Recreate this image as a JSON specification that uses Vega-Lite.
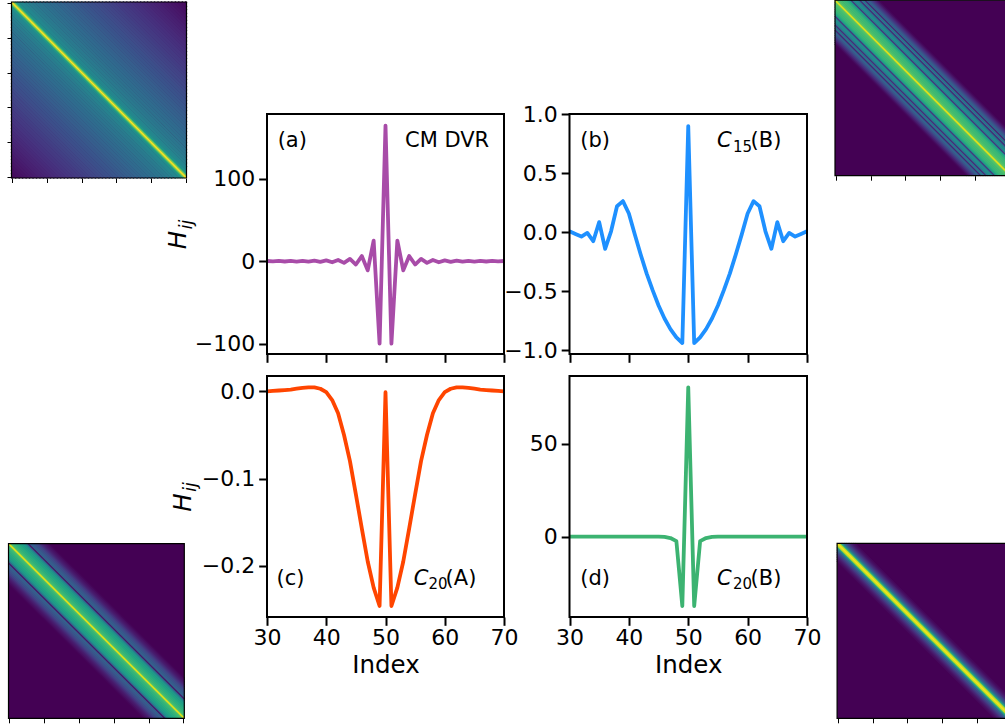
{
  "$schema": "https://vega.github.io/schema/vega-lite/v6.json",
  "width": 1005,
  "height": 724,
  "autosize": "none",
  "padding": 0,
  "background": "white",
  "config": {
    "view": {"stroke": null},
    "font": "DejaVu Sans",
    "axis": {"labelFont": "DejaVu Sans", "titleFont": "DejaVu Sans", "labelColor": "black", "titleColor": "black", "tickColor": "black", "grid": false, "domain": false, "labelFlush": false, "labelOverlap": false}
  },
  "resolve": {"scale": {"x": "independent", "y": "independent"}, "axis": {"x": "independent", "y": "independent"}},
  "datasets": {
    "a": [
      {"i":30,"h":0.25},{"i":31,"h":-0.28},{"i":32,"h":0.31},{"i":33,"h":-0.35},{"i":34,"h":0.39},{"i":35,"h":-0.44},{"i":36,"h":0.51},{"i":37,"h":-0.59},{"i":38,"h":0.69},{"i":39,"h":-0.83},{"i":40,"h":1.0},{"i":41,"h":-1.23},{"i":42,"h":1.56},{"i":43,"h":-2.04},{"i":44,"h":2.78},{"i":45,"h":-4.0},{"i":46,"h":6.25},{"i":47,"h":-11.1},{"i":48,"h":25.0},{"i":49,"h":-100},{"i":50,"h":164.5},{"i":51,"h":-100},{"i":52,"h":25.0},{"i":53,"h":-11.1},{"i":54,"h":6.25},{"i":55,"h":-4.0},{"i":56,"h":2.78},{"i":57,"h":-2.04},{"i":58,"h":1.56},{"i":59,"h":-1.23},{"i":60,"h":1.0},{"i":61,"h":-0.83},{"i":62,"h":0.69},{"i":63,"h":-0.59},{"i":64,"h":0.51},{"i":65,"h":-0.44},{"i":66,"h":0.39},{"i":67,"h":-0.35},{"i":68,"h":0.31},{"i":69,"h":-0.28},{"i":70,"h":0.25}
    ],
    "b": [
      {"i":30,"h":0.008},{"i":31,"h":-0.015},{"i":32,"h":-0.037},{"i":33,"h":-0.006},{"i":34,"h":-0.076},{"i":35,"h":0.085},{"i":36,"h":-0.14},{"i":37,"h":0.008},{"i":38,"h":0.22},{"i":39,"h":0.263},{"i":40,"h":0.158},{"i":41,"h":-0.02},{"i":42,"h":-0.19},{"i":43,"h":-0.35},{"i":44,"h":-0.49},{"i":45,"h":-0.62},{"i":46,"h":-0.73},{"i":47,"h":-0.82},{"i":48,"h":-0.89},{"i":49,"h":-0.937},{"i":50,"h":0.898},{"i":51,"h":-0.937},{"i":52,"h":-0.89},{"i":53,"h":-0.82},{"i":54,"h":-0.73},{"i":55,"h":-0.62},{"i":56,"h":-0.49},{"i":57,"h":-0.35},{"i":58,"h":-0.19},{"i":59,"h":-0.02},{"i":60,"h":0.158},{"i":61,"h":0.263},{"i":62,"h":0.22},{"i":63,"h":0.008},{"i":64,"h":-0.14},{"i":65,"h":0.085},{"i":66,"h":-0.076},{"i":67,"h":-0.006},{"i":68,"h":-0.037},{"i":69,"h":-0.015},{"i":70,"h":0.008}
    ],
    "c": [
      {"i":30,"h":0.0},{"i":31,"h":0.0005},{"i":32,"h":0.001},{"i":33,"h":0.0015},{"i":34,"h":0.002},{"i":35,"h":0.003},{"i":36,"h":0.004},{"i":37,"h":0.0045},{"i":38,"h":0.0045},{"i":39,"h":0.003},{"i":40,"h":-0.001},{"i":41,"h":-0.01},{"i":42,"h":-0.025},{"i":43,"h":-0.05},{"i":44,"h":-0.08},{"i":45,"h":-0.118},{"i":46,"h":-0.157},{"i":47,"h":-0.195},{"i":48,"h":-0.225},{"i":49,"h":-0.246},{"i":50,"h":-0.001},{"i":51,"h":-0.246},{"i":52,"h":-0.225},{"i":53,"h":-0.195},{"i":54,"h":-0.157},{"i":55,"h":-0.118},{"i":56,"h":-0.08},{"i":57,"h":-0.05},{"i":58,"h":-0.025},{"i":59,"h":-0.01},{"i":60,"h":-0.001},{"i":61,"h":0.003},{"i":62,"h":0.0045},{"i":63,"h":0.0045},{"i":64,"h":0.004},{"i":65,"h":0.003},{"i":66,"h":0.002},{"i":67,"h":0.0015},{"i":68,"h":0.001},{"i":69,"h":0.0005},{"i":70,"h":0.0}
    ],
    "d": [
      {"i":30,"h":0},{"i":31,"h":0},{"i":32,"h":0},{"i":33,"h":0},{"i":34,"h":0},{"i":35,"h":0},{"i":36,"h":0},{"i":37,"h":0},{"i":38,"h":0},{"i":39,"h":0},{"i":40,"h":0},{"i":41,"h":0},{"i":42,"h":0},{"i":43,"h":0},{"i":44,"h":0},{"i":45,"h":0},{"i":46,"h":-0.2},{"i":47,"h":-0.8},{"i":48,"h":-2.5},{"i":49,"h":-37.5},{"i":50,"h":80.5},{"i":51,"h":-37.5},{"i":52,"h":-2.5},{"i":53,"h":-0.8},{"i":54,"h":-0.2},{"i":55,"h":0},{"i":56,"h":0},{"i":57,"h":0},{"i":58,"h":0},{"i":59,"h":0},{"i":60,"h":0},{"i":61,"h":0},{"i":62,"h":0},{"i":63,"h":0},{"i":64,"h":0},{"i":65,"h":0},{"i":66,"h":0},{"i":67,"h":0},{"i":68,"h":0},{"i":69,"h":0},{"i":70,"h":0}
    ],
    "tl_far": [
      {"c1":99.5,"r1":-0.5,"c2":100.5,"r2":0.5,"v":0.02},{"c1":-0.5,"r1":99.5,"c2":0.5,"r2":100.5,"v":0.02},
      {"c1":97.5,"r1":-0.5,"c2":100.5,"r2":2.5,"v":0.028},{"c1":-0.5,"r1":97.5,"c2":2.5,"r2":100.5,"v":0.028},
      {"c1":95.5,"r1":-0.5,"c2":100.5,"r2":4.5,"v":0.036},{"c1":-0.5,"r1":95.5,"c2":4.5,"r2":100.5,"v":0.036},
      {"c1":93.5,"r1":-0.5,"c2":100.5,"r2":6.5,"v":0.044},{"c1":-0.5,"r1":93.5,"c2":6.5,"r2":100.5,"v":0.044},
      {"c1":91.5,"r1":-0.5,"c2":100.5,"r2":8.5,"v":0.052},{"c1":-0.5,"r1":91.5,"c2":8.5,"r2":100.5,"v":0.052},
      {"c1":89.5,"r1":-0.5,"c2":100.5,"r2":10.5,"v":0.06},{"c1":-0.5,"r1":89.5,"c2":10.5,"r2":100.5,"v":0.06},
      {"c1":87.5,"r1":-0.5,"c2":100.5,"r2":12.5,"v":0.068},{"c1":-0.5,"r1":87.5,"c2":12.5,"r2":100.5,"v":0.068},
      {"c1":85.5,"r1":-0.5,"c2":100.5,"r2":14.5,"v":0.076},{"c1":-0.5,"r1":85.5,"c2":14.5,"r2":100.5,"v":0.076},
      {"c1":83.5,"r1":-0.5,"c2":100.5,"r2":16.5,"v":0.084},{"c1":-0.5,"r1":83.5,"c2":16.5,"r2":100.5,"v":0.084},
      {"c1":81.5,"r1":-0.5,"c2":100.5,"r2":18.5,"v":0.092},{"c1":-0.5,"r1":81.5,"c2":18.5,"r2":100.5,"v":0.092},
      {"c1":79.5,"r1":-0.5,"c2":100.5,"r2":20.5,"v":0.1},{"c1":-0.5,"r1":79.5,"c2":20.5,"r2":100.5,"v":0.1},
      {"c1":77.5,"r1":-0.5,"c2":100.5,"r2":22.5,"v":0.108},{"c1":-0.5,"r1":77.5,"c2":22.5,"r2":100.5,"v":0.108},
      {"c1":75.5,"r1":-0.5,"c2":100.5,"r2":24.5,"v":0.116},{"c1":-0.5,"r1":75.5,"c2":24.5,"r2":100.5,"v":0.116},
      {"c1":73.5,"r1":-0.5,"c2":100.5,"r2":26.5,"v":0.124},{"c1":-0.5,"r1":73.5,"c2":26.5,"r2":100.5,"v":0.124},
      {"c1":71.5,"r1":-0.5,"c2":100.5,"r2":28.5,"v":0.132},{"c1":-0.5,"r1":71.5,"c2":28.5,"r2":100.5,"v":0.132},
      {"c1":69.5,"r1":-0.5,"c2":100.5,"r2":30.5,"v":0.14},{"c1":-0.5,"r1":69.5,"c2":30.5,"r2":100.5,"v":0.14},
      {"c1":67.5,"r1":-0.5,"c2":100.5,"r2":32.5,"v":0.148},{"c1":-0.5,"r1":67.5,"c2":32.5,"r2":100.5,"v":0.148},
      {"c1":65.5,"r1":-0.5,"c2":100.5,"r2":34.5,"v":0.155},{"c1":-0.5,"r1":65.5,"c2":34.5,"r2":100.5,"v":0.155},
      {"c1":63.5,"r1":-0.5,"c2":100.5,"r2":36.5,"v":0.163},{"c1":-0.5,"r1":63.5,"c2":36.5,"r2":100.5,"v":0.163},
      {"c1":61.5,"r1":-0.5,"c2":100.5,"r2":38.5,"v":0.17},{"c1":-0.5,"r1":61.5,"c2":38.5,"r2":100.5,"v":0.17},
      {"c1":59.5,"r1":-0.5,"c2":100.5,"r2":40.5,"v":0.178},{"c1":-0.5,"r1":59.5,"c2":40.5,"r2":100.5,"v":0.178},
      {"c1":57.5,"r1":-0.5,"c2":100.5,"r2":42.5,"v":0.186},{"c1":-0.5,"r1":57.5,"c2":42.5,"r2":100.5,"v":0.186},
      {"c1":55.5,"r1":-0.5,"c2":100.5,"r2":44.5,"v":0.195},{"c1":-0.5,"r1":55.5,"c2":44.5,"r2":100.5,"v":0.195},
      {"c1":53.5,"r1":-0.5,"c2":100.5,"r2":46.5,"v":0.203},{"c1":-0.5,"r1":53.5,"c2":46.5,"r2":100.5,"v":0.203},
      {"c1":51.5,"r1":-0.5,"c2":100.5,"r2":48.5,"v":0.212},{"c1":-0.5,"r1":51.5,"c2":48.5,"r2":100.5,"v":0.212},
      {"c1":49.5,"r1":-0.5,"c2":100.5,"r2":50.5,"v":0.22},{"c1":-0.5,"r1":49.5,"c2":50.5,"r2":100.5,"v":0.22},
      {"c1":47.5,"r1":-0.5,"c2":100.5,"r2":52.5,"v":0.229},{"c1":-0.5,"r1":47.5,"c2":52.5,"r2":100.5,"v":0.229},
      {"c1":45.5,"r1":-0.5,"c2":100.5,"r2":54.5,"v":0.238},{"c1":-0.5,"r1":45.5,"c2":54.5,"r2":100.5,"v":0.238},
      {"c1":43.5,"r1":-0.5,"c2":100.5,"r2":56.5,"v":0.247},{"c1":-0.5,"r1":43.5,"c2":56.5,"r2":100.5,"v":0.247},
      {"c1":41.5,"r1":-0.5,"c2":100.5,"r2":58.5,"v":0.256},{"c1":-0.5,"r1":41.5,"c2":58.5,"r2":100.5,"v":0.256},
      {"c1":39.5,"r1":-0.5,"c2":100.5,"r2":60.5,"v":0.265},{"c1":-0.5,"r1":39.5,"c2":60.5,"r2":100.5,"v":0.265},
      {"c1":37.5,"r1":-0.5,"c2":100.5,"r2":62.5,"v":0.274},{"c1":-0.5,"r1":37.5,"c2":62.5,"r2":100.5,"v":0.274},
      {"c1":35.5,"r1":-0.5,"c2":100.5,"r2":64.5,"v":0.283},{"c1":-0.5,"r1":35.5,"c2":64.5,"r2":100.5,"v":0.283},
      {"c1":33.5,"r1":-0.5,"c2":100.5,"r2":66.5,"v":0.292},{"c1":-0.5,"r1":33.5,"c2":66.5,"r2":100.5,"v":0.292},
      {"c1":31.5,"r1":-0.5,"c2":100.5,"r2":68.5,"v":0.301},{"c1":-0.5,"r1":31.5,"c2":68.5,"r2":100.5,"v":0.301},
      {"c1":29.5,"r1":-0.5,"c2":100.5,"r2":70.5,"v":0.31},{"c1":-0.5,"r1":29.5,"c2":70.5,"r2":100.5,"v":0.31},
      {"c1":27.5,"r1":-0.5,"c2":100.5,"r2":72.5,"v":0.32},{"c1":-0.5,"r1":27.5,"c2":72.5,"r2":100.5,"v":0.32},
      {"c1":25.5,"r1":-0.5,"c2":100.5,"r2":74.5,"v":0.33},{"c1":-0.5,"r1":25.5,"c2":74.5,"r2":100.5,"v":0.33},
      {"c1":23.5,"r1":-0.5,"c2":100.5,"r2":76.5,"v":0.34},{"c1":-0.5,"r1":23.5,"c2":76.5,"r2":100.5,"v":0.34},
      {"c1":21.5,"r1":-0.5,"c2":100.5,"r2":78.5,"v":0.35},{"c1":-0.5,"r1":21.5,"c2":78.5,"r2":100.5,"v":0.35},
      {"c1":19.5,"r1":-0.5,"c2":100.5,"r2":80.5,"v":0.36},{"c1":-0.5,"r1":19.5,"c2":80.5,"r2":100.5,"v":0.36},
      {"c1":17.5,"r1":-0.5,"c2":100.5,"r2":82.5,"v":0.371},{"c1":-0.5,"r1":17.5,"c2":82.5,"r2":100.5,"v":0.371},
      {"c1":15.5,"r1":-0.5,"c2":100.5,"r2":84.5,"v":0.382},{"c1":-0.5,"r1":15.5,"c2":84.5,"r2":100.5,"v":0.382},
      {"c1":13.5,"r1":-0.5,"c2":100.5,"r2":86.5,"v":0.393},{"c1":-0.5,"r1":13.5,"c2":86.5,"r2":100.5,"v":0.393},
      {"c1":11.5,"r1":-0.5,"c2":100.5,"r2":88.5,"v":0.404},{"c1":-0.5,"r1":11.5,"c2":88.5,"r2":100.5,"v":0.404},
      {"c1":9.5,"r1":-0.5,"c2":100.5,"r2":90.5,"v":0.415},{"c1":-0.5,"r1":9.5,"c2":90.5,"r2":100.5,"v":0.415},
      {"c1":7.5,"r1":-0.5,"c2":100.5,"r2":92.5,"v":0.432},{"c1":-0.5,"r1":7.5,"c2":92.5,"r2":100.5,"v":0.432},
      {"c1":5.5,"r1":-0.5,"c2":100.5,"r2":94.5,"v":0.45},{"c1":-0.5,"r1":5.5,"c2":94.5,"r2":100.5,"v":0.45}
    ],
    "tl_near": [
      {"c1":4.5,"r1":-0.5,"c2":100.5,"r2":95.5,"v":0.46},{"c1":-0.5,"r1":4.5,"c2":95.5,"r2":100.5,"v":0.46},
      {"c1":3.5,"r1":-0.5,"c2":100.5,"r2":96.5,"v":0.48},{"c1":-0.5,"r1":3.5,"c2":96.5,"r2":100.5,"v":0.48},
      {"c1":2.5,"r1":-0.5,"c2":100.5,"r2":97.5,"v":0.52},{"c1":-0.5,"r1":2.5,"c2":97.5,"r2":100.5,"v":0.52},
      {"c1":1.5,"r1":-0.5,"c2":100.5,"r2":98.5,"v":0.6},{"c1":-0.5,"r1":1.5,"c2":98.5,"r2":100.5,"v":0.6},
      {"c1":0.5,"r1":-0.5,"c2":100.5,"r2":99.5,"v":0.8},{"c1":-0.5,"r1":0.5,"c2":99.5,"r2":100.5,"v":0.8},
      {"c1":-0.5,"r1":-0.5,"c2":100.5,"r2":100.5,"v":1.0}
    ],
    "tr": [
      {"c1":24.5,"r1":-0.5,"c2":100.5,"r2":75.5,"v":0.01},{"c1":-0.5,"r1":24.5,"c2":75.5,"r2":100.5,"v":0.01},
      {"c1":23.5,"r1":-0.5,"c2":100.5,"r2":76.5,"v":0.04},{"c1":-0.5,"r1":23.5,"c2":76.5,"r2":100.5,"v":0.04},
      {"c1":22.5,"r1":-0.5,"c2":100.5,"r2":77.5,"v":0.08},{"c1":-0.5,"r1":22.5,"c2":77.5,"r2":100.5,"v":0.08},
      {"c1":21.5,"r1":-0.5,"c2":100.5,"r2":78.5,"v":0.13},{"c1":-0.5,"r1":21.5,"c2":78.5,"r2":100.5,"v":0.13},
      {"c1":20.5,"r1":-0.5,"c2":100.5,"r2":79.5,"v":0.18},{"c1":-0.5,"r1":20.5,"c2":79.5,"r2":100.5,"v":0.18},
      {"c1":19.5,"r1":-0.5,"c2":100.5,"r2":80.5,"v":0.24},{"c1":-0.5,"r1":19.5,"c2":80.5,"r2":100.5,"v":0.24},
      {"c1":18.5,"r1":-0.5,"c2":100.5,"r2":81.5,"v":0.3},{"c1":-0.5,"r1":18.5,"c2":81.5,"r2":100.5,"v":0.3},
      {"c1":17.5,"r1":-0.5,"c2":100.5,"r2":82.5,"v":0.33},{"c1":-0.5,"r1":17.5,"c2":82.5,"r2":100.5,"v":0.33},
      {"c1":16.5,"r1":-0.5,"c2":100.5,"r2":83.5,"v":0.1},{"c1":-0.5,"r1":16.5,"c2":83.5,"r2":100.5,"v":0.1},
      {"c1":15.5,"r1":-0.5,"c2":100.5,"r2":84.5,"v":0.38},{"c1":-0.5,"r1":15.5,"c2":84.5,"r2":100.5,"v":0.38},
      {"c1":14.5,"r1":-0.5,"c2":100.5,"r2":85.5,"v":0.4},{"c1":-0.5,"r1":14.5,"c2":85.5,"r2":100.5,"v":0.4},
      {"c1":13.5,"r1":-0.5,"c2":100.5,"r2":86.5,"v":0.12},{"c1":-0.5,"r1":13.5,"c2":86.5,"r2":100.5,"v":0.12},
      {"c1":12.5,"r1":-0.5,"c2":100.5,"r2":87.5,"v":0.4},{"c1":-0.5,"r1":12.5,"c2":87.5,"r2":100.5,"v":0.4},
      {"c1":11.5,"r1":-0.5,"c2":100.5,"r2":88.5,"v":0.48},{"c1":-0.5,"r1":11.5,"c2":88.5,"r2":100.5,"v":0.48},
      {"c1":10.5,"r1":-0.5,"c2":100.5,"r2":89.5,"v":0.5},{"c1":-0.5,"r1":10.5,"c2":89.5,"r2":100.5,"v":0.5},
      {"c1":9.5,"r1":-0.5,"c2":100.5,"r2":90.5,"v":0.45},{"c1":-0.5,"r1":9.5,"c2":90.5,"r2":100.5,"v":0.45},
      {"c1":8.5,"r1":-0.5,"c2":100.5,"r2":91.5,"v":0.15},{"c1":-0.5,"r1":8.5,"c2":91.5,"r2":100.5,"v":0.15},
      {"c1":7.5,"r1":-0.5,"c2":100.5,"r2":92.5,"v":0.55},{"c1":-0.5,"r1":7.5,"c2":92.5,"r2":100.5,"v":0.55},
      {"c1":6.5,"r1":-0.5,"c2":100.5,"r2":93.5,"v":0.62},{"c1":-0.5,"r1":6.5,"c2":93.5,"r2":100.5,"v":0.62},
      {"c1":5.5,"r1":-0.5,"c2":100.5,"r2":94.5,"v":0.66},{"c1":-0.5,"r1":5.5,"c2":94.5,"r2":100.5,"v":0.66},
      {"c1":4.5,"r1":-0.5,"c2":100.5,"r2":95.5,"v":0.68},{"c1":-0.5,"r1":4.5,"c2":95.5,"r2":100.5,"v":0.68},
      {"c1":3.5,"r1":-0.5,"c2":100.5,"r2":96.5,"v":0.69},{"c1":-0.5,"r1":3.5,"c2":96.5,"r2":100.5,"v":0.69},
      {"c1":2.5,"r1":-0.5,"c2":100.5,"r2":97.5,"v":0.7},{"c1":-0.5,"r1":2.5,"c2":97.5,"r2":100.5,"v":0.7},
      {"c1":1.5,"r1":-0.5,"c2":100.5,"r2":98.5,"v":0.72},{"c1":-0.5,"r1":1.5,"c2":98.5,"r2":100.5,"v":0.72},
      {"c1":0.5,"r1":-0.5,"c2":100.5,"r2":99.5,"v":0.75},{"c1":-0.5,"r1":0.5,"c2":99.5,"r2":100.5,"v":0.75},
      {"c1":-0.5,"r1":-0.5,"c2":100.5,"r2":100.5,"v":0.95}
    ],
    "bl": [
      {"c1":22.5,"r1":-0.5,"c2":100.5,"r2":77.5,"v":0.01},{"c1":-0.5,"r1":22.5,"c2":77.5,"r2":100.5,"v":0.01},
      {"c1":21.5,"r1":-0.5,"c2":100.5,"r2":78.5,"v":0.03},{"c1":-0.5,"r1":21.5,"c2":78.5,"r2":100.5,"v":0.03},
      {"c1":20.5,"r1":-0.5,"c2":100.5,"r2":79.5,"v":0.05},{"c1":-0.5,"r1":20.5,"c2":79.5,"r2":100.5,"v":0.05},
      {"c1":19.5,"r1":-0.5,"c2":100.5,"r2":80.5,"v":0.07},{"c1":-0.5,"r1":19.5,"c2":80.5,"r2":100.5,"v":0.07},
      {"c1":18.5,"r1":-0.5,"c2":100.5,"r2":81.5,"v":0.1},{"c1":-0.5,"r1":18.5,"c2":81.5,"r2":100.5,"v":0.1},
      {"c1":17.5,"r1":-0.5,"c2":100.5,"r2":82.5,"v":0.14},{"c1":-0.5,"r1":17.5,"c2":82.5,"r2":100.5,"v":0.14},
      {"c1":16.5,"r1":-0.5,"c2":100.5,"r2":83.5,"v":0.18},{"c1":-0.5,"r1":16.5,"c2":83.5,"r2":100.5,"v":0.18},
      {"c1":15.5,"r1":-0.5,"c2":100.5,"r2":84.5,"v":0.22},{"c1":-0.5,"r1":15.5,"c2":84.5,"r2":100.5,"v":0.22},
      {"c1":14.5,"r1":-0.5,"c2":100.5,"r2":85.5,"v":0.25},{"c1":-0.5,"r1":14.5,"c2":85.5,"r2":100.5,"v":0.25},
      {"c1":13.5,"r1":-0.5,"c2":100.5,"r2":86.5,"v":0.28},{"c1":-0.5,"r1":13.5,"c2":86.5,"r2":100.5,"v":0.28},
      {"c1":12.5,"r1":-0.5,"c2":100.5,"r2":87.5,"v":0.3},{"c1":-0.5,"r1":12.5,"c2":87.5,"r2":100.5,"v":0.3},
      {"c1":11.5,"r1":-0.5,"c2":100.5,"r2":88.5,"v":0.3},{"c1":-0.5,"r1":11.5,"c2":88.5,"r2":100.5,"v":0.3},
      {"c1":10.5,"r1":-0.5,"c2":100.5,"r2":89.5,"v":0.05},{"c1":-0.5,"r1":10.5,"c2":89.5,"r2":100.5,"v":0.05},
      {"c1":9.5,"r1":-0.5,"c2":100.5,"r2":90.5,"v":0.35},{"c1":-0.5,"r1":9.5,"c2":90.5,"r2":100.5,"v":0.35},
      {"c1":8.5,"r1":-0.5,"c2":100.5,"r2":91.5,"v":0.5},{"c1":-0.5,"r1":8.5,"c2":91.5,"r2":100.5,"v":0.5},
      {"c1":7.5,"r1":-0.5,"c2":100.5,"r2":92.5,"v":0.55},{"c1":-0.5,"r1":7.5,"c2":92.5,"r2":100.5,"v":0.55},
      {"c1":6.5,"r1":-0.5,"c2":100.5,"r2":93.5,"v":0.58},{"c1":-0.5,"r1":6.5,"c2":93.5,"r2":100.5,"v":0.58},
      {"c1":5.5,"r1":-0.5,"c2":100.5,"r2":94.5,"v":0.6},{"c1":-0.5,"r1":5.5,"c2":94.5,"r2":100.5,"v":0.6},
      {"c1":4.5,"r1":-0.5,"c2":100.5,"r2":95.5,"v":0.62},{"c1":-0.5,"r1":4.5,"c2":95.5,"r2":100.5,"v":0.62},
      {"c1":3.5,"r1":-0.5,"c2":100.5,"r2":96.5,"v":0.64},{"c1":-0.5,"r1":3.5,"c2":96.5,"r2":100.5,"v":0.64},
      {"c1":2.5,"r1":-0.5,"c2":100.5,"r2":97.5,"v":0.66},{"c1":-0.5,"r1":2.5,"c2":97.5,"r2":100.5,"v":0.66},
      {"c1":1.5,"r1":-0.5,"c2":100.5,"r2":98.5,"v":0.68},{"c1":-0.5,"r1":1.5,"c2":98.5,"r2":100.5,"v":0.68},
      {"c1":0.5,"r1":-0.5,"c2":100.5,"r2":99.5,"v":0.72},{"c1":-0.5,"r1":0.5,"c2":99.5,"r2":100.5,"v":0.72},
      {"c1":-0.5,"r1":-0.5,"c2":100.5,"r2":100.5,"v":0.95}
    ],
    "br": [
      {"c1":9.5,"r1":-0.5,"c2":100.5,"r2":90.5,"v":0.02},{"c1":-0.5,"r1":9.5,"c2":90.5,"r2":100.5,"v":0.02},
      {"c1":8.5,"r1":-0.5,"c2":100.5,"r2":91.5,"v":0.04},{"c1":-0.5,"r1":8.5,"c2":91.5,"r2":100.5,"v":0.04},
      {"c1":7.5,"r1":-0.5,"c2":100.5,"r2":92.5,"v":0.07},{"c1":-0.5,"r1":7.5,"c2":92.5,"r2":100.5,"v":0.07},
      {"c1":6.5,"r1":-0.5,"c2":100.5,"r2":93.5,"v":0.11},{"c1":-0.5,"r1":6.5,"c2":93.5,"r2":100.5,"v":0.11},
      {"c1":5.5,"r1":-0.5,"c2":100.5,"r2":94.5,"v":0.16},{"c1":-0.5,"r1":5.5,"c2":94.5,"r2":100.5,"v":0.16},
      {"c1":4.5,"r1":-0.5,"c2":100.5,"r2":95.5,"v":0.22},{"c1":-0.5,"r1":4.5,"c2":95.5,"r2":100.5,"v":0.22},
      {"c1":3.5,"r1":-0.5,"c2":100.5,"r2":96.5,"v":0.3},{"c1":-0.5,"r1":3.5,"c2":96.5,"r2":100.5,"v":0.3},
      {"c1":2.5,"r1":-0.5,"c2":100.5,"r2":97.5,"v":0.42},{"c1":-0.5,"r1":2.5,"c2":97.5,"r2":100.5,"v":0.42},
      {"c1":1.5,"r1":-0.5,"c2":100.5,"r2":98.5,"v":0.62},{"c1":-0.5,"r1":1.5,"c2":98.5,"r2":100.5,"v":0.62},
      {"c1":0.5,"r1":-0.5,"c2":100.5,"r2":99.5,"v":0.9},{"c1":-0.5,"r1":0.5,"c2":99.5,"r2":100.5,"v":0.9},
      {"c1":-0.5,"r1":-0.5,"c2":100.5,"r2":100.5,"v":0.98}
    ]
  },
  "layer": [
    {"data": {"name": "a"}, "mark": {"type": "line", "color": "#a84ca8", "strokeWidth": 3.8, "strokeJoin": "round", "strokeCap": "butt"},
     "encoding": {
       "x": {"field": "i", "type": "quantitative", "scale": {"domain": [30, 70], "range": [267, 504], "nice": false, "zero": false},
             "axis": {"orient": "bottom", "offset": -370, "values": [30, 40, 50, 60, 70], "labels": false, "title": null, "tickSize": 8.3, "tickWidth": 2}},
       "y": {"field": "h", "type": "quantitative", "scale": {"domain": [-112.5, 178.5], "range": [354, 114], "nice": false, "zero": false},
             "axis": {"orient": "left", "offset": -267, "values": [-100, 0, 100], "title": null, "tickSize": 8.3, "tickWidth": 2, "labelFontSize": 22, "labelPadding": 4}}
     }},
    {"data": {"values": [{}]}, "mark": {"type": "rect", "filled": false, "stroke": "black", "strokeWidth": 2},
     "encoding": {"x": {"datum": 30, "type": "quantitative", "scale": {"domain": [30, 70], "range": [267, 504], "nice": false, "zero": false}, "axis": null}, "x2": {"datum": 70},
                  "y": {"datum": -112.5, "type": "quantitative", "scale": {"domain": [-112.5, 178.5], "range": [354, 114], "nice": false, "zero": false}, "axis": null}, "y2": {"datum": 178.5}}},
    {"data": {"values": [{"label": "(a)"}]}, "mark": {"type": "text", "align": "left", "baseline": "alphabetic", "fontSize": 21, "color": "black"},
     "encoding": {"x": {"datum": 31.8, "type": "quantitative", "scale": {"domain": [30, 70], "range": [267, 504], "nice": false, "zero": false}, "axis": null},
                  "y": {"datum": 137.9, "type": "quantitative", "scale": {"domain": [-112.5, 178.5], "range": [354, 114], "nice": false, "zero": false}, "axis": null}, "text": {"field": "label"}}},
    {"data": {"values": [{"label": "CM DVR"}]}, "mark": {"type": "text", "align": "right", "baseline": "alphabetic", "fontSize": 21, "color": "black"},
     "encoding": {"x": {"datum": 67.5, "type": "quantitative", "scale": {"domain": [30, 70], "range": [267, 504], "nice": false, "zero": false}, "axis": null},
                  "y": {"datum": 137.9, "type": "quantitative", "scale": {"domain": [-112.5, 178.5], "range": [354, 114], "nice": false, "zero": false}, "axis": null}, "text": {"field": "label"}}},
    {"data": {"values": [{"label": "H"}]}, "mark": {"type": "text", "align": "left", "baseline": "alphabetic", "fontSize": 24.5, "fontStyle": "italic", "angle": 270, "color": "black"},
     "encoding": {"x": {"datum": 16.33, "type": "quantitative", "scale": {"domain": [30, 70], "range": [267, 504], "nice": false, "zero": false}, "axis": null},
                  "y": {"datum": 14.45, "type": "quantitative", "scale": {"domain": [-112.5, 178.5], "range": [354, 114], "nice": false, "zero": false}, "axis": null}, "text": {"field": "label"}}},
    {"data": {"values": [{"label": "ij"}]}, "mark": {"type": "text", "align": "left", "baseline": "alphabetic", "fontSize": 17, "fontStyle": "italic", "angle": 270, "dx": 20, "dy": 5.5, "color": "black"},
     "encoding": {"x": {"datum": 16.33, "type": "quantitative", "scale": {"domain": [30, 70], "range": [267, 504], "nice": false, "zero": false}, "axis": null},
                  "y": {"datum": 14.45, "type": "quantitative", "scale": {"domain": [-112.5, 178.5], "range": [354, 114], "nice": false, "zero": false}, "axis": null}, "text": {"field": "label"}}},

    {"data": {"name": "b"}, "mark": {"type": "line", "color": "#1e90ff", "strokeWidth": 3.8, "strokeJoin": "round", "strokeCap": "butt"},
     "encoding": {
       "x": {"field": "i", "type": "quantitative", "scale": {"domain": [30, 70], "range": [569.5, 807], "nice": false, "zero": false},
             "axis": {"orient": "bottom", "offset": -370, "values": [30, 40, 50, 60, 70], "labels": false, "title": null, "tickSize": 8.3, "tickWidth": 2}},
       "y": {"field": "h", "type": "quantitative", "scale": {"domain": [-1.03, 1.0], "range": [354, 114], "nice": false, "zero": false},
             "axis": {"orient": "left", "offset": -569.5, "values": [-1, -0.5, 0, 0.5, 1], "format": ".1f", "title": null, "tickSize": 8.3, "tickWidth": 2, "labelFontSize": 22, "labelPadding": 4}}
     }},
    {"data": {"values": [{}]}, "mark": {"type": "rect", "filled": false, "stroke": "black", "strokeWidth": 2},
     "encoding": {"x": {"datum": 30, "type": "quantitative", "scale": {"domain": [30, 70], "range": [569.5, 807], "nice": false, "zero": false}, "axis": null}, "x2": {"datum": 70},
                  "y": {"datum": -1.03, "type": "quantitative", "scale": {"domain": [-1.03, 1.0], "range": [354, 114], "nice": false, "zero": false}, "axis": null}, "y2": {"datum": 1.0}}},
    {"data": {"values": [{"label": "(b)"}]}, "mark": {"type": "text", "align": "left", "baseline": "alphabetic", "fontSize": 21, "color": "black"},
     "encoding": {"x": {"datum": 31.82, "type": "quantitative", "scale": {"domain": [30, 70], "range": [569.5, 807], "nice": false, "zero": false}, "axis": null},
                  "y": {"datum": 0.717, "type": "quantitative", "scale": {"domain": [-1.03, 1.0], "range": [354, 114], "nice": false, "zero": false}, "axis": null}, "text": {"field": "label"}}},
    {"data": {"values": [{"label": "C"}]}, "mark": {"type": "text", "align": "left", "baseline": "alphabetic", "fontSize": 21, "fontStyle": "italic", "color": "black"},
     "encoding": {"x": {"datum": 54.84, "type": "quantitative", "scale": {"domain": [30, 70], "range": [569.5, 807], "nice": false, "zero": false}, "axis": null},
                  "y": {"datum": 0.717, "type": "quantitative", "scale": {"domain": [-1.03, 1.0], "range": [354, 114], "nice": false, "zero": false}, "axis": null}, "text": {"field": "label"}}},
    {"data": {"values": [{"label": "15"}]}, "mark": {"type": "text", "align": "left", "baseline": "alphabetic", "fontSize": 15, "dy": 4.5, "color": "black"},
     "encoding": {"x": {"datum": 57.54, "type": "quantitative", "scale": {"domain": [30, 70], "range": [569.5, 807], "nice": false, "zero": false}, "axis": null},
                  "y": {"datum": 0.717, "type": "quantitative", "scale": {"domain": [-1.03, 1.0], "range": [354, 114], "nice": false, "zero": false}, "axis": null}, "text": {"field": "label"}}},
    {"data": {"values": [{"label": "(B)"}]}, "mark": {"type": "text", "align": "left", "baseline": "alphabetic", "fontSize": 21, "color": "black"},
     "encoding": {"x": {"datum": 60.5, "type": "quantitative", "scale": {"domain": [30, 70], "range": [569.5, 807], "nice": false, "zero": false}, "axis": null},
                  "y": {"datum": 0.717, "type": "quantitative", "scale": {"domain": [-1.03, 1.0], "range": [354, 114], "nice": false, "zero": false}, "axis": null}, "text": {"field": "label"}}},

    {"data": {"name": "c"}, "mark": {"type": "line", "color": "#ff4500", "strokeWidth": 3.8, "strokeJoin": "round", "strokeCap": "butt"},
     "encoding": {
       "x": {"field": "i", "type": "quantitative", "scale": {"domain": [30, 70], "range": [267, 504], "nice": false, "zero": false},
             "axis": {"orient": "bottom", "offset": -107, "values": [30, 40, 50, 60, 70], "title": "Index", "titleFontSize": 24.5, "titleFontWeight": "normal", "titleBaseline": "alphabetic", "titleY": 55, "tickSize": 8.3, "tickWidth": 2, "labelFontSize": 22, "labelPadding": 2}},
       "y": {"field": "h", "type": "quantitative", "scale": {"domain": [-0.2586, 0.0176], "range": [617, 376], "nice": false, "zero": false},
             "axis": {"orient": "left", "offset": -267, "values": [-0.2, -0.1, 0], "format": ".1f", "title": null, "tickSize": 8.3, "tickWidth": 2, "labelFontSize": 22, "labelPadding": 4}}
     }},
    {"data": {"values": [{}]}, "mark": {"type": "rect", "filled": false, "stroke": "black", "strokeWidth": 2},
     "encoding": {"x": {"datum": 30, "type": "quantitative", "scale": {"domain": [30, 70], "range": [267, 504], "nice": false, "zero": false}, "axis": null}, "x2": {"datum": 70},
                  "y": {"datum": -0.2586, "type": "quantitative", "scale": {"domain": [-0.2586, 0.0176], "range": [617, 376], "nice": false, "zero": false}, "axis": null}, "y2": {"datum": 0.0176}}},
    {"data": {"values": [{"label": "(c)"}]}, "mark": {"type": "text", "align": "left", "baseline": "alphabetic", "fontSize": 21, "color": "black"},
     "encoding": {"x": {"datum": 31.62, "type": "quantitative", "scale": {"domain": [30, 70], "range": [267, 504], "nice": false, "zero": false}, "axis": null},
                  "y": {"datum": -0.2214, "type": "quantitative", "scale": {"domain": [-0.2586, 0.0176], "range": [617, 376], "nice": false, "zero": false}, "axis": null}, "text": {"field": "label"}}},
    {"data": {"values": [{"label": "C"}]}, "mark": {"type": "text", "align": "left", "baseline": "alphabetic", "fontSize": 21, "fontStyle": "italic", "color": "black"},
     "encoding": {"x": {"datum": 54.76, "type": "quantitative", "scale": {"domain": [30, 70], "range": [267, 504], "nice": false, "zero": false}, "axis": null},
                  "y": {"datum": -0.2214, "type": "quantitative", "scale": {"domain": [-0.2586, 0.0176], "range": [617, 376], "nice": false, "zero": false}, "axis": null}, "text": {"field": "label"}}},
    {"data": {"values": [{"label": "20"}]}, "mark": {"type": "text", "align": "left", "baseline": "alphabetic", "fontSize": 15, "dy": 4.5, "color": "black"},
     "encoding": {"x": {"datum": 57.26, "type": "quantitative", "scale": {"domain": [30, 70], "range": [267, 504], "nice": false, "zero": false}, "axis": null},
                  "y": {"datum": -0.2214, "type": "quantitative", "scale": {"domain": [-0.2586, 0.0176], "range": [617, 376], "nice": false, "zero": false}, "axis": null}, "text": {"field": "label"}}},
    {"data": {"values": [{"label": "(A)"}]}, "mark": {"type": "text", "align": "left", "baseline": "alphabetic", "fontSize": 21, "color": "black"},
     "encoding": {"x": {"datum": 60.14, "type": "quantitative", "scale": {"domain": [30, 70], "range": [267, 504], "nice": false, "zero": false}, "axis": null},
                  "y": {"datum": -0.2214, "type": "quantitative", "scale": {"domain": [-0.2586, 0.0176], "range": [617, 376], "nice": false, "zero": false}, "axis": null}, "text": {"field": "label"}}},
    {"data": {"values": [{"label": "H"}]}, "mark": {"type": "text", "align": "left", "baseline": "alphabetic", "fontSize": 24.5, "fontStyle": "italic", "angle": 270, "color": "black"},
     "encoding": {"x": {"datum": 17.17, "type": "quantitative", "scale": {"domain": [30, 70], "range": [267, 504], "nice": false, "zero": false}, "axis": null},
                  "y": {"datum": -0.1379, "type": "quantitative", "scale": {"domain": [-0.2586, 0.0176], "range": [617, 376], "nice": false, "zero": false}, "axis": null}, "text": {"field": "label"}}},
    {"data": {"values": [{"label": "ij"}]}, "mark": {"type": "text", "align": "left", "baseline": "alphabetic", "fontSize": 17, "fontStyle": "italic", "angle": 270, "dx": 20, "dy": 5.5, "color": "black"},
     "encoding": {"x": {"datum": 17.17, "type": "quantitative", "scale": {"domain": [30, 70], "range": [267, 504], "nice": false, "zero": false}, "axis": null},
                  "y": {"datum": -0.1379, "type": "quantitative", "scale": {"domain": [-0.2586, 0.0176], "range": [617, 376], "nice": false, "zero": false}, "axis": null}, "text": {"field": "label"}}},

    {"data": {"name": "d"}, "mark": {"type": "line", "color": "#3cb371", "strokeWidth": 3.8, "strokeJoin": "round", "strokeCap": "butt"},
     "encoding": {
       "x": {"field": "i", "type": "quantitative", "scale": {"domain": [30, 70], "range": [569.5, 807], "nice": false, "zero": false},
             "axis": {"orient": "bottom", "offset": -107, "values": [30, 40, 50, 60, 70], "title": "Index", "titleFontSize": 24.5, "titleFontWeight": "normal", "titleBaseline": "alphabetic", "titleY": 55, "tickSize": 8.3, "tickWidth": 2, "labelFontSize": 22, "labelPadding": 2}},
       "y": {"field": "h", "type": "quantitative", "scale": {"domain": [-43.4, 86.6], "range": [617, 376], "nice": false, "zero": false},
             "axis": {"orient": "left", "offset": -569.5, "values": [0, 50], "title": null, "tickSize": 8.3, "tickWidth": 2, "labelFontSize": 22, "labelPadding": 4}}
     }},
    {"data": {"values": [{}]}, "mark": {"type": "rect", "filled": false, "stroke": "black", "strokeWidth": 2},
     "encoding": {"x": {"datum": 30, "type": "quantitative", "scale": {"domain": [30, 70], "range": [569.5, 807], "nice": false, "zero": false}, "axis": null}, "x2": {"datum": 70},
                  "y": {"datum": -43.4, "type": "quantitative", "scale": {"domain": [-43.4, 86.6], "range": [617, 376], "nice": false, "zero": false}, "axis": null}, "y2": {"datum": 86.6}}},
    {"data": {"values": [{"label": "(d)"}]}, "mark": {"type": "text", "align": "left", "baseline": "alphabetic", "fontSize": 21, "color": "black"},
     "encoding": {"x": {"datum": 31.82, "type": "quantitative", "scale": {"domain": [30, 70], "range": [569.5, 807], "nice": false, "zero": false}, "axis": null},
                  "y": {"datum": -25.87, "type": "quantitative", "scale": {"domain": [-43.4, 86.6], "range": [617, 376], "nice": false, "zero": false}, "axis": null}, "text": {"field": "label"}}},
    {"data": {"values": [{"label": "C"}]}, "mark": {"type": "text", "align": "left", "baseline": "alphabetic", "fontSize": 21, "fontStyle": "italic", "color": "black"},
     "encoding": {"x": {"datum": 54.84, "type": "quantitative", "scale": {"domain": [30, 70], "range": [569.5, 807], "nice": false, "zero": false}, "axis": null},
                  "y": {"datum": -25.87, "type": "quantitative", "scale": {"domain": [-43.4, 86.6], "range": [617, 376], "nice": false, "zero": false}, "axis": null}, "text": {"field": "label"}}},
    {"data": {"values": [{"label": "20"}]}, "mark": {"type": "text", "align": "left", "baseline": "alphabetic", "fontSize": 15, "dy": 4.5, "color": "black"},
     "encoding": {"x": {"datum": 57.54, "type": "quantitative", "scale": {"domain": [30, 70], "range": [569.5, 807], "nice": false, "zero": false}, "axis": null},
                  "y": {"datum": -25.87, "type": "quantitative", "scale": {"domain": [-43.4, 86.6], "range": [617, 376], "nice": false, "zero": false}, "axis": null}, "text": {"field": "label"}}},
    {"data": {"values": [{"label": "(B)"}]}, "mark": {"type": "text", "align": "left", "baseline": "alphabetic", "fontSize": 21, "color": "black"},
     "encoding": {"x": {"datum": 60.5, "type": "quantitative", "scale": {"domain": [30, 70], "range": [569.5, 807], "nice": false, "zero": false}, "axis": null},
                  "y": {"datum": -25.87, "type": "quantitative", "scale": {"domain": [-43.4, 86.6], "range": [617, 376], "nice": false, "zero": false}, "axis": null}, "text": {"field": "label"}}},

    {"data": {"values": [{}]}, "mark": {"type": "rect", "color": "#440154"},
     "encoding": {
       "x": {"datum": -0.5, "type": "quantitative", "scale": {"domain": [-0.5, 100.5], "range": [11.5, 186.5], "nice": false, "zero": false},
             "axis": {"orient": "bottom", "offset": -546, "values": [0, 20, 40, 60, 80, 100], "labels": false, "title": null, "tickSize": 4.5, "tickWidth": 1}},
       "x2": {"datum": 100.5},
       "y": {"datum": -0.5, "type": "quantitative", "scale": {"domain": [-0.5, 100.5], "range": [2, 178], "nice": false, "zero": false},
             "axis": {"orient": "left", "offset": -11.5, "values": [0, 20, 40, 60, 80, 100], "labels": false, "title": null, "tickSize": 4.5, "tickWidth": 1}},
       "y2": {"datum": 100.5}
     }},
    {"data": {"name": "tl_far"}, "mark": {"type": "rule", "strokeWidth": 2.8, "strokeCap": "butt"},
     "encoding": {"x": {"field": "c1", "type": "quantitative", "scale": {"domain": [-0.5, 100.5], "range": [11.5, 186.5], "nice": false, "zero": false}, "axis": null},
                  "y": {"field": "r1", "type": "quantitative", "scale": {"domain": [-0.5, 100.5], "range": [2, 178], "nice": false, "zero": false}, "axis": null},
                  "x2": {"field": "c2"}, "y2": {"field": "r2"},
                  "color": {"field": "v", "type": "quantitative", "scale": {"scheme": "viridis", "domain": [0, 1]}, "legend": null}}},
    {"data": {"name": "tl_near"}, "mark": {"type": "rule", "strokeWidth": 1.7, "strokeCap": "butt"},
     "encoding": {"x": {"field": "c1", "type": "quantitative", "scale": {"domain": [-0.5, 100.5], "range": [11.5, 186.5], "nice": false, "zero": false}, "axis": null},
                  "y": {"field": "r1", "type": "quantitative", "scale": {"domain": [-0.5, 100.5], "range": [2, 178], "nice": false, "zero": false}, "axis": null},
                  "x2": {"field": "c2"}, "y2": {"field": "r2"},
                  "color": {"field": "v", "type": "quantitative", "scale": {"scheme": "viridis", "domain": [0, 1]}, "legend": null}}},
    {"data": {"values": [{}]}, "mark": {"type": "rect", "filled": false, "stroke": "black", "strokeWidth": 1.2},
     "encoding": {"x": {"datum": -0.5, "type": "quantitative", "scale": {"domain": [-0.5, 100.5], "range": [11.5, 186.5], "nice": false, "zero": false}, "axis": null}, "x2": {"datum": 100.5},
                  "y": {"datum": -0.5, "type": "quantitative", "scale": {"domain": [-0.5, 100.5], "range": [2, 178], "nice": false, "zero": false}, "axis": null}, "y2": {"datum": 100.5}}},

    {"data": {"values": [{}]}, "mark": {"type": "rect", "color": "#440154"},
     "encoding": {
       "x": {"datum": -0.5, "type": "quantitative", "scale": {"domain": [-0.5, 100.5], "range": [835, 1010.5], "nice": false, "zero": false},
             "axis": {"orient": "bottom", "offset": -548.3, "values": [0, 20, 40, 60, 80, 100], "labels": false, "title": null, "tickSize": 4.5, "tickWidth": 1}},
       "x2": {"datum": 100.5},
       "y": {"datum": -0.5, "type": "quantitative", "scale": {"domain": [-0.5, 100.5], "range": [0.2, 175.7], "nice": false, "zero": false}, "axis": null},
       "y2": {"datum": 100.5}
     }},
    {"data": {"name": "tr"}, "mark": {"type": "rule", "strokeWidth": 1.7, "strokeCap": "butt"},
     "encoding": {"x": {"field": "c1", "type": "quantitative", "scale": {"domain": [-0.5, 100.5], "range": [835, 1010.5], "nice": false, "zero": false}, "axis": null},
                  "y": {"field": "r1", "type": "quantitative", "scale": {"domain": [-0.5, 100.5], "range": [0.2, 175.7], "nice": false, "zero": false}, "axis": null},
                  "x2": {"field": "c2"}, "y2": {"field": "r2"},
                  "color": {"field": "v", "type": "quantitative", "scale": {"scheme": "viridis", "domain": [0, 1]}, "legend": null}}},
    {"data": {"values": [{}]}, "mark": {"type": "rect", "filled": false, "stroke": "black", "strokeWidth": 1.2},
     "encoding": {"x": {"datum": -0.5, "type": "quantitative", "scale": {"domain": [-0.5, 100.5], "range": [835, 1010.5], "nice": false, "zero": false}, "axis": null}, "x2": {"datum": 100.5},
                  "y": {"datum": -0.5, "type": "quantitative", "scale": {"domain": [-0.5, 100.5], "range": [0.2, 175.7], "nice": false, "zero": false}, "axis": null}, "y2": {"datum": 100.5}}},

    {"data": {"values": [{}]}, "mark": {"type": "rect", "color": "#440154"},
     "encoding": {
       "x": {"datum": -0.5, "type": "quantitative", "scale": {"domain": [-0.5, 100.5], "range": [8.5, 184.3], "nice": false, "zero": false},
             "axis": {"orient": "bottom", "offset": -5.7, "values": [0, 20, 40, 60, 80, 100], "labels": false, "title": null, "tickSize": 4.5, "tickWidth": 1}},
       "x2": {"datum": 100.5},
       "y": {"datum": -0.5, "type": "quantitative", "scale": {"domain": [-0.5, 100.5], "range": [543.7, 718.3], "nice": false, "zero": false}, "axis": null},
       "y2": {"datum": 100.5}
     }},
    {"data": {"name": "bl"}, "mark": {"type": "rule", "strokeWidth": 1.7, "strokeCap": "butt"},
     "encoding": {"x": {"field": "c1", "type": "quantitative", "scale": {"domain": [-0.5, 100.5], "range": [8.5, 184.3], "nice": false, "zero": false}, "axis": null},
                  "y": {"field": "r1", "type": "quantitative", "scale": {"domain": [-0.5, 100.5], "range": [543.7, 718.3], "nice": false, "zero": false}, "axis": null},
                  "x2": {"field": "c2"}, "y2": {"field": "r2"},
                  "color": {"field": "v", "type": "quantitative", "scale": {"scheme": "viridis", "domain": [0, 1]}, "legend": null}}},
    {"data": {"values": [{}]}, "mark": {"type": "rect", "filled": false, "stroke": "black", "strokeWidth": 1.2},
     "encoding": {"x": {"datum": -0.5, "type": "quantitative", "scale": {"domain": [-0.5, 100.5], "range": [8.5, 184.3], "nice": false, "zero": false}, "axis": null}, "x2": {"datum": 100.5},
                  "y": {"datum": -0.5, "type": "quantitative", "scale": {"domain": [-0.5, 100.5], "range": [543.7, 718.3], "nice": false, "zero": false}, "axis": null}, "y2": {"datum": 100.5}}},

    {"data": {"values": [{}]}, "mark": {"type": "rect", "color": "#440154"},
     "encoding": {
       "x": {"datum": -0.5, "type": "quantitative", "scale": {"domain": [-0.5, 100.5], "range": [837.1, 1012.6], "nice": false, "zero": false},
             "axis": {"orient": "bottom", "offset": -5.7, "values": [0, 20, 40, 60, 80, 100], "labels": false, "title": null, "tickSize": 4.5, "tickWidth": 1}},
       "x2": {"datum": 100.5},
       "y": {"datum": -0.5, "type": "quantitative", "scale": {"domain": [-0.5, 100.5], "range": [543.3, 718.3], "nice": false, "zero": false}, "axis": null},
       "y2": {"datum": 100.5}
     }},
    {"data": {"name": "br"}, "mark": {"type": "rule", "strokeWidth": 1.7, "strokeCap": "butt"},
     "encoding": {"x": {"field": "c1", "type": "quantitative", "scale": {"domain": [-0.5, 100.5], "range": [837.1, 1012.6], "nice": false, "zero": false}, "axis": null},
                  "y": {"field": "r1", "type": "quantitative", "scale": {"domain": [-0.5, 100.5], "range": [543.3, 718.3], "nice": false, "zero": false}, "axis": null},
                  "x2": {"field": "c2"}, "y2": {"field": "r2"},
                  "color": {"field": "v", "type": "quantitative", "scale": {"scheme": "viridis", "domain": [0, 1]}, "legend": null}}},
    {"data": {"values": [{}]}, "mark": {"type": "rect", "filled": false, "stroke": "black", "strokeWidth": 1.2},
     "encoding": {"x": {"datum": -0.5, "type": "quantitative", "scale": {"domain": [-0.5, 100.5], "range": [837.1, 1012.6], "nice": false, "zero": false}, "axis": null}, "x2": {"datum": 100.5},
                  "y": {"datum": -0.5, "type": "quantitative", "scale": {"domain": [-0.5, 100.5], "range": [543.3, 718.3], "nice": false, "zero": false}, "axis": null}, "y2": {"datum": 100.5}}}
  ]
}
